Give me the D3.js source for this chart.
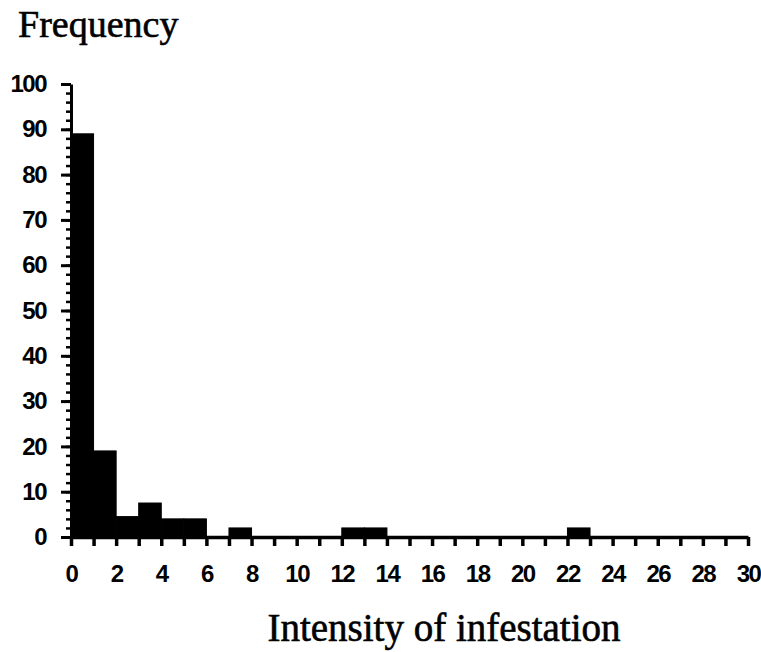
<!DOCTYPE html>
<html>
<head>
<meta charset="utf-8">
<script src="https://cdn.jsdelivr.net/npm/d3@7"></script>
<style>
body { margin: 0; background: #fff; }
svg { display: block; }
.tick text { font-family: "Liberation Sans", Arial, sans-serif; font-weight: bold; font-size: 24px; letter-spacing: -1.5px; }
</style>
</head>
<body>
<svg id="chart"></svg>
<script>
// histogram: bin start (intensity) and frequency
var binStarts = [0, 1, 2, 3, 4, 5, 6, 7, 8, 9, 10, 11, 12, 13, 14, 15, 16, 17, 18, 19, 20, 21, 22, 23, 24, 25, 26, 27, 28, 29]
var frequency = [89, 19, 4.5, 7.5, 4, 4, 0, 2, 0, 0, 0, 0, 2, 2, 0, 0, 0, 0, 0, 0, 0, 0, 2, 0, 0, 0, 0, 0, 0, 0]
var yTicks = [0, 10, 20, 30, 40, 50, 60, 70, 80, 90, 100]
var xLabels = [0, 2, 4, 6, 8, 10, 12, 14, 16, 18, 20, 22, 24, 26, 28, 30]

var width = 761
var height = 652
var svg = d3.select("#chart")
	.attr("width", width)
	.attr("height", height)

var x = d3.scaleLinear().domain([0, 30]).range([71, 748])
var y = d3.scaleLinear().domain([0, 100]).range([537, 84])

var bins = binStarts.map((b, i) => ({ x0: b, x1: b + 1, v: frequency[i] }))

// bars (thin stroke closes the seams between neighbours)
svg.append("g").selectAll("rect").data(bins.filter(d => d.v > 0)).enter().append("rect")
	.attr("x", d => x(d.x0))
	.attr("width", d => x(d.x1) - x(d.x0))
	.attr("y", d => y(d.v))
	.attr("height", d => y(0) - y(d.v))
	.attr("fill", "#000")
	.attr("stroke", "#000")
	.attr("stroke-width", 1)

// y axis, minor ticks every 2
svg.append("g")
	.attr("transform", "translate(" + x(0) + ",0)")
	.call(d3.axisLeft(y).tickValues(d3.range(0, 101, 2)).tickSize(5).tickSizeOuter(0).tickFormat(""))
	.call(g => g.selectAll("line").attr("stroke-width", 2.5))
	.call(g => g.select(".domain").attr("stroke-width", 3))

// y axis, major ticks
svg.append("g")
	.attr("transform", "translate(" + x(0) + ",0)")
	.call(d3.axisLeft(y).tickValues(yTicks).tickSize(10).tickSizeOuter(0).tickPadding(15))
	.call(g => g.select(".domain").remove())
	.call(g => g.selectAll("line").attr("stroke-width", 3))
	.call(g => g.selectAll("text").attr("fill", "#000"))

// x axis
svg.append("g")
	.attr("transform", "translate(0," + y(0) + ")")
	.call(d3.axisBottom(x).tickValues(d3.range(0, 31, 1)).tickSize(9).tickSizeOuter(0).tickPadding(19)
		.tickFormat(d => xLabels.indexOf(d) >= 0 ? d : ""))
	.call(g => g.select(".domain").attr("stroke-width", 3.5))
	.call(g => g.selectAll("line").attr("stroke-width", 3.5))
	.call(g => g.selectAll("text").attr("fill", "#000"))

// titles
svg.append("text")
	.attr("x", 18)
	.attr("y", 37)
	.style("font-family", "'Liberation Serif', 'Times New Roman', serif")
	.style("font-size", "38px")
	.style("stroke", "#000")
	.style("stroke-width", 0.6)
	.text("Frequency")

svg.append("text")
	.attr("x", 444)
	.attr("y", 641)
	.attr("text-anchor", "middle")
	.style("font-family", "'Liberation Serif', 'Times New Roman', serif")
	.style("font-size", "39px")
	.style("stroke", "#000")
	.style("stroke-width", 0.6)
	.text("Intensity of infestation")
</script>
</body>
</html>
